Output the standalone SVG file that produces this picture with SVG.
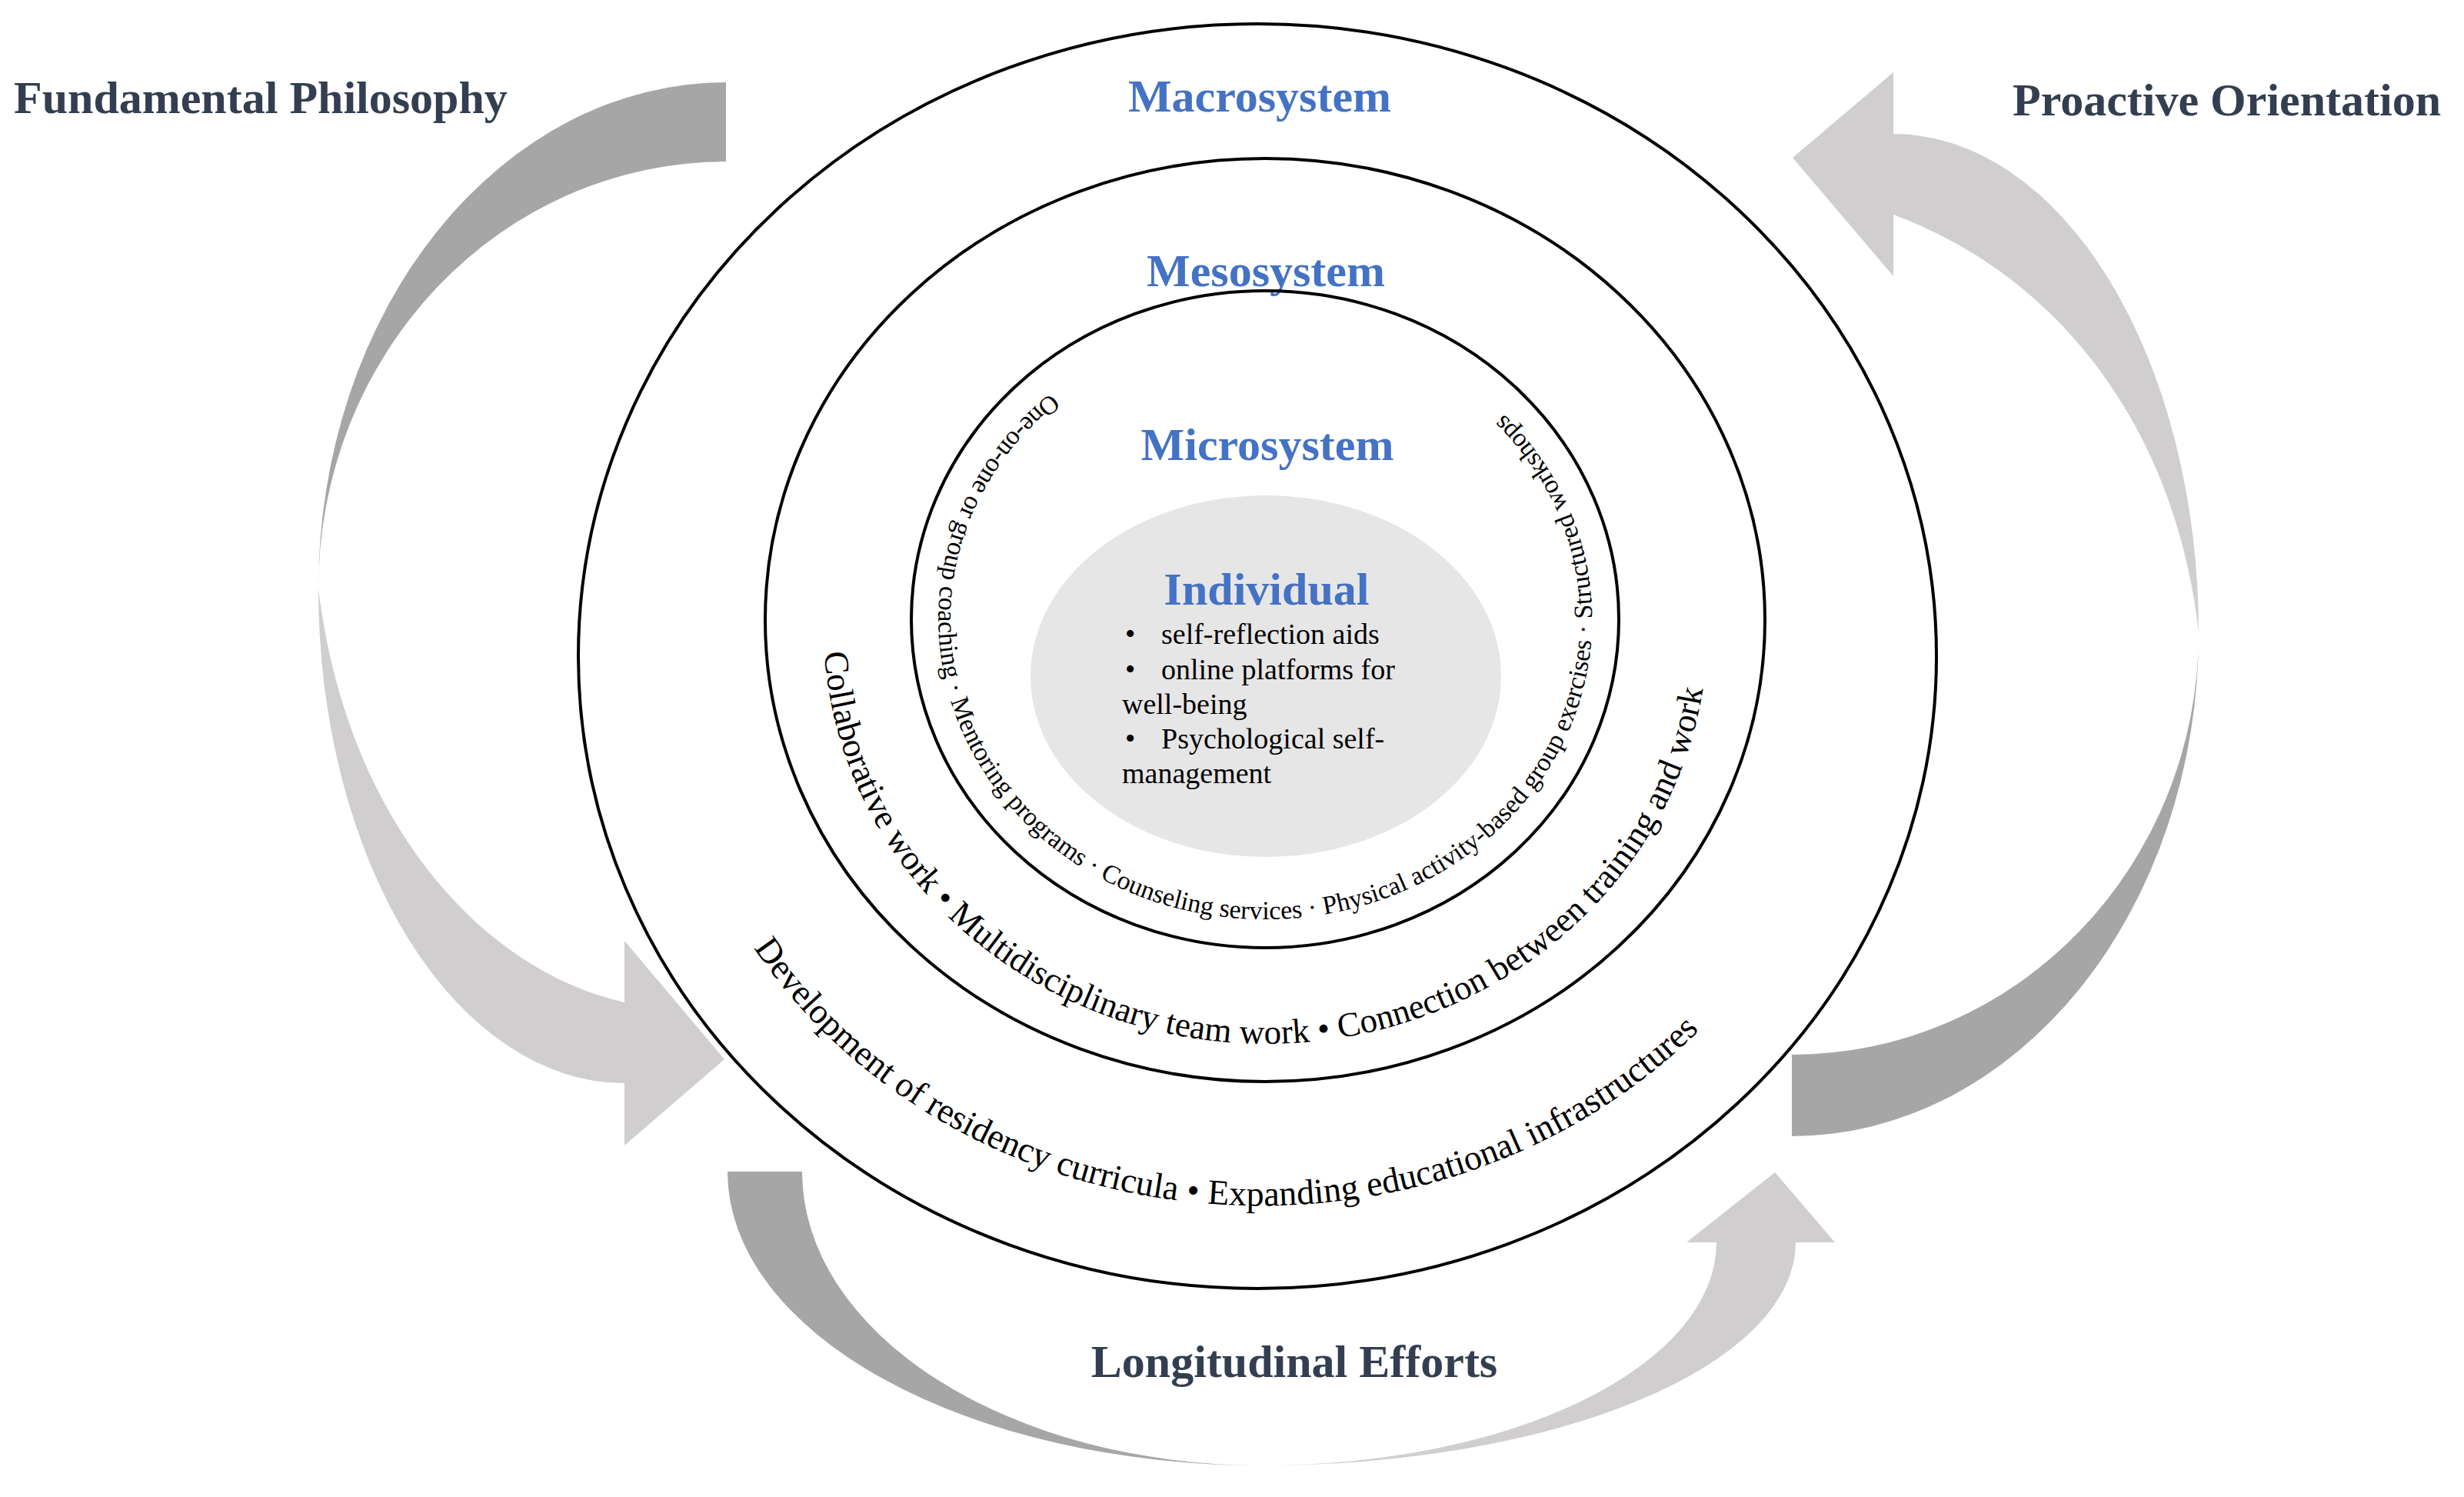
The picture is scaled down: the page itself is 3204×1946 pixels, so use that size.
<svg xmlns="http://www.w3.org/2000/svg" xmlns:xlink="http://www.w3.org/1999/xlink" width="3204" height="1946" viewBox="0 0 3204 1946">
<style>
.ring{fill:none;stroke:#000;stroke-width:4}
.dark{fill:#A6A6A6}
.light{fill:#D0CECE}
.title{font-family:"Liberation Serif",serif;font-weight:bold;font-size:60px;fill:#333F50}
.sys{font-family:"Liberation Serif",serif;font-weight:bold;font-size:60px;fill:#4472C4;text-anchor:middle}
.body{font-family:"Liberation Serif",serif;fill:#000}
</style>
<defs>
<path id="pInner" d="M1366,511 A425,390 0 1 0 1956,539"/>
<path id="pMid" d="M1072,848 A575,542 0 1 0 2214,731"/>
<path id="pOuter" d="M980,1232 A773,702 0 0 0 2230,1318"/>
</defs>
<rect width="3204" height="1946" fill="#fff"/>
<g id="connectors">
<path class="dark" d="M944,107 A530,658 0 0 0 414,765 A530,555 0 0 1 944,210 Z"/>
<path class="light" d="M414,765 A398,643 0 0 0 812,1408 L812,1489 L942,1377 L812,1223 L812,1303 C620,1260 450,1060 414,765 Z"/>
<path class="light" d="M2462,174 A397,649 0 0 1 2859,823 C2830,560 2680,360 2462,279 L2462,359 L2331,205 L2462,94 Z"/>
<path class="dark" d="M2859,823 A529,654 0 0 1 2330,1477 L2330,1371 A529,548 0 0 0 2859,823 Z"/>
<path class="dark" d="M946,1523 A695,382 0 0 0 1641,1905 A598,382 0 0 1 1043,1523 Z"/>
<path class="light" d="M1641,1905 A694,290 0 0 0 2335,1615 L2386,1615 L2308,1524 L2193,1615 L2232,1615 A591,290 0 0 1 1641,1905 Z"/>
</g>
<g id="macrosystem">
<ellipse class="ring" cx="1635" cy="853" rx="883" ry="822"/>
<text class="sys" x="1638" y="145">Macrosystem</text>
<text class="body" font-size="46"><textPath xlink:href="#pOuter">Development of residency curricula • Expanding educational infrastructures</textPath></text>
</g>
<g id="mesosystem">
<ellipse class="ring" cx="1645" cy="806" rx="650" ry="600"/>
<text class="sys" x="1646" y="372">Mesosystem</text>
<text class="body" font-size="45"><textPath xlink:href="#pMid">Collaborative work • Multidisciplinary team work • Connection between training and work</textPath></text>
</g>
<g id="microsystem">
<ellipse class="ring" cx="1645" cy="805" rx="460" ry="427"/>
<text class="sys" x="1648" y="598">Microsystem</text>
<text class="body" font-size="34"><textPath xlink:href="#pInner">One-on-one or group coaching · Mentoring programs · Counseling services · Physical activity-based group exercises · Structured workshops</textPath></text>
</g>
<g id="individual">
<ellipse cx="1646" cy="879" rx="306" ry="235" fill="#E7E6E6"/>
<text class="sys" x="1647" y="786">Individual</text>
<g class="body" font-size="38">
<text y="837"><tspan x="1463">•</tspan><tspan x="1510">self-reflection aids</tspan></text>
<text y="883"><tspan x="1463">•</tspan><tspan x="1510">online platforms for</tspan></text>
<text x="1459" y="928">well-being</text>
<text y="973"><tspan x="1463">•</tspan><tspan x="1510">Psychological self-</tspan></text>
<text x="1459" y="1018">management</text>
</g>
</g>
<g id="labels">
<text class="title" x="18" y="147">Fundamental Philosophy</text>
<text class="title" x="2617" y="150">Proactive Orientation</text>
<text class="title" x="1683" y="1790" text-anchor="middle">Longitudinal Efforts</text>
</g>
</svg>
